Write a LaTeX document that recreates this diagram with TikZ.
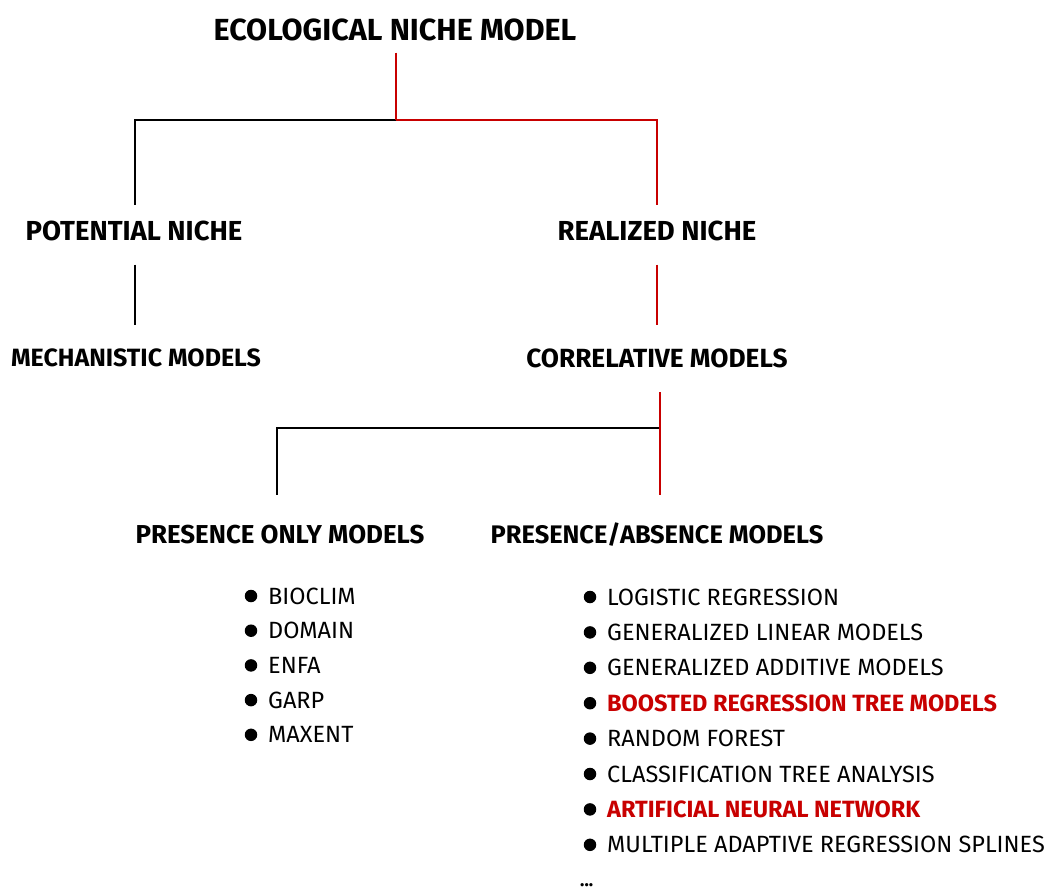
\documentclass[tikz,border=0pt]{standalone}
\usepackage{fontspec}
\setmainfont{Fira Sans}
\definecolor{nred}{RGB}{200,0,0}
\begin{document}
\begin{tikzpicture}[x=1pt,y=-1pt,
  title/.style={font=\fontsize{30.5}{34}\selectfont\bfseries, inner sep=0pt, text height=21pt, text depth=0pt},
  head/.style={font=\fontsize{#1}{#1}\selectfont\bfseries, inner sep=0pt, text height=0.69*#1pt, text depth=0pt},
  head/.default=26,
  item/.style={font=\fontsize{23.5}{26}\selectfont, inner sep=0pt, anchor=base west},
  hot/.style={item, text=nred, font=\fontsize{23.5}{26}\selectfont\bfseries},
  dot/.style={circle, fill=black, inner sep=0pt, minimum size=12.5pt},
  blk/.style={draw=black, line width=1.8pt},
  rd/.style={draw=nred, line width=1.8pt},
]
\useasboundingbox (0,0) rectangle (1046,890);

% tree nodes
\node[title] (eco) at (395,30) {ECOLOGICAL NICHE MODEL};
\node[head=27.5] (pn) at (134,231) {POTENTIAL NICHE};
\node[head=27.5] (rn) at (657,231) {REALIZED NICHE};
\node[head=25] (mm) at (136,358) {MECHANISTIC MODELS};
\node[head=26.3] (cm) at (657,358) {CORRELATIVE MODELS};
\node[head=25.9] (po) at (280,535) {PRESENCE ONLY MODELS};
\node[head=25.4] (pa) at (657,535) {PRESENCE/ABSENCE MODELS};

% junctions
\coordinate (j0) at (396,120);
\coordinate (jl) at (135,120);
\coordinate (jr) at (657,120);
\coordinate (j2) at (660,428);
\coordinate (jp) at (277,428);

% connectors
\draw[blk, shorten >=16pt] (j0) -- (jl) -- (jl |- pn.north);
\draw[rd, shorten <=12pt] (eco.south -| j0) -- (j0);
\draw[rd, shorten >=16pt] (j0) -- (jr) -- (jr |- rn.north);
\draw[blk, shorten <=24pt, shorten >=24pt] (pn.south -| jl) -- (mm.north -| jl);
\draw[rd, shorten <=24pt, shorten >=24pt] (rn.south -| jr) -- (cm.north -| jr);
\draw[blk, shorten >=31pt] (j2) -- (jp) -- (jp |- po.north);
\draw[rd, shorten <=25pt, shorten >=31pt] (cm.south -| j2) -- (pa.north -| j2);

% presence only list
\foreach \t [count=\i from 0] in {BIOCLIM, DOMAIN, ENFA, GARP, MAXENT} {
  \node[dot] (bl\i) at (251, 596+34.7*\i) {};
  \node[item] (l\i) at (268, 604+34.7*\i) {\t};
}

% presence/absence list
\node[dot] (br0) at (590, 597) {};
\node[item] (r0) at (607, 605) {LOGISTIC REGRESSION};
\node[dot] (br1) at (590, 632.4) {};
\node[item] (r1) at (607, 640.4) {GENERALIZED LINEAR MODELS};
\node[dot] (br2) at (590, 667.8) {};
\node[item] (r2) at (607, 675.8) {GENERALIZED ADDITIVE MODELS};
\node[dot] (br3) at (590, 703.2) {};
\node[hot] (r3) at (607, 711.2) {BOOSTED REGRESSION TREE MODELS};
\node[dot] (br4) at (590, 738.6) {};
\node[item] (r4) at (607, 746.6) {RANDOM FOREST};
\node[dot] (br5) at (590, 774) {};
\node[item] (r5) at (607, 782) {CLASSIFICATION TREE ANALYSIS};
\node[dot] (br6) at (590, 809.4) {};
\node[hot] (r6) at (607, 817.4) {ARTIFICIAL NEURAL NETWORK};
\node[dot] (br7) at (590, 844.8) {};
\node[item] (r7) at (607, 852.8) {MULTIPLE ADAPTIVE REGRESSION SPLINES};
\node[font=\fontsize{18}{20}\selectfont\bfseries, inner sep=0pt, anchor=base west] (more) at (580, 886) {...};
\end{tikzpicture}
\end{document}
